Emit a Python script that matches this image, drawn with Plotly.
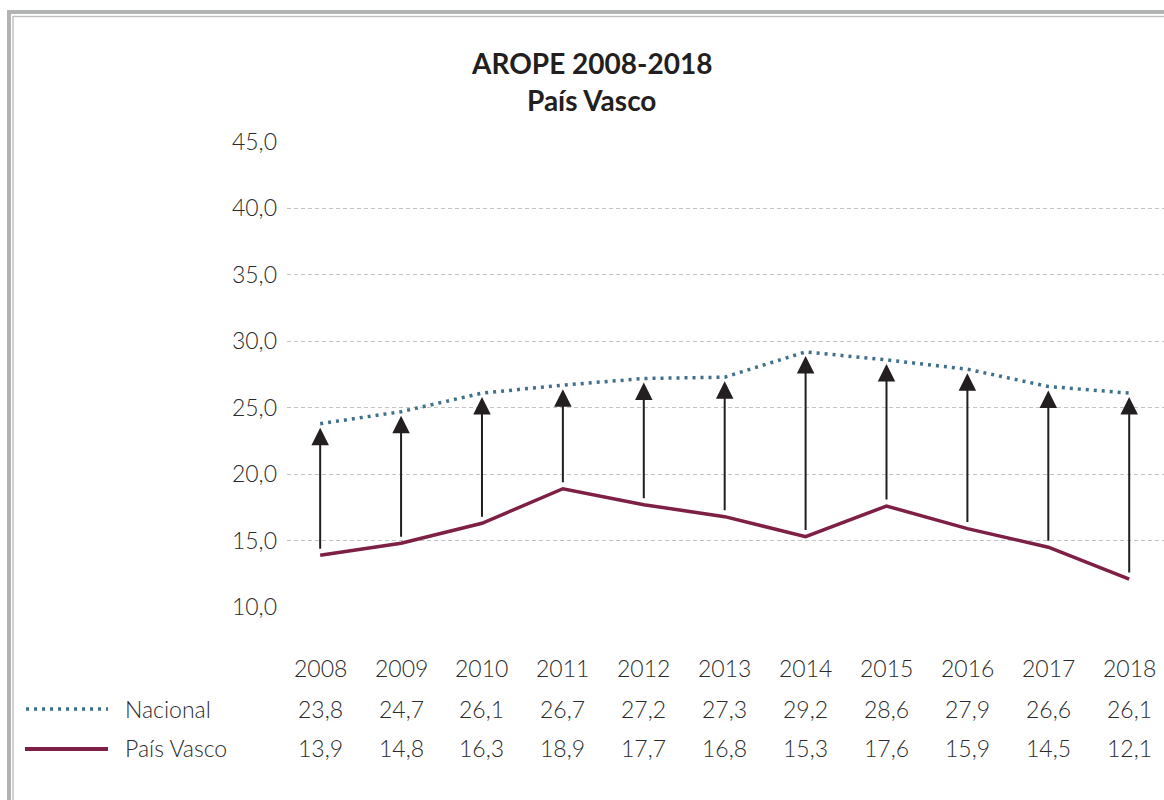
import plotly.graph_objects as go

years = [2008, 2009, 2010, 2011, 2012, 2013, 2014, 2015, 2016, 2017, 2018]
nacional = [23.8, 24.7, 26.1, 26.7, 27.2, 27.3, 29.2, 28.6, 27.9, 26.6, 26.1]
pais_vasco = [13.9, 14.8, 16.3, 18.9, 17.7, 16.8, 15.3, 17.6, 15.9, 14.5, 12.1]
y_ticks = [10, 15, 20, 25, 30, 35, 40, 45]
y_tick_labels = ["10,0", "15,0", "20,0", "25,0", "30,0", "35,0", "40,0", "45,0"]
series_names = ["Nacional", "País Vasco"]

C_NAC = "#41718a"
C_PV = "#7e1f45"
C_TXT = "#2b2b2b"
FONT = "Lato, sans-serif"

W, H = 1164, 800
L, R, T, B = 287, 0, 142, 193
PW, PH = W - L - R, H - T - B


def px(x):
    return (x - L) / PW


def py(y):
    return (H - B - y) / PH


def fmt(v):
    return f"{v:.1f}".replace(".", ",")


txt_font = dict(family=FONT, size=23, color=C_TXT, weight=300)

fig = go.Figure()
fig.add_trace(go.Scatter(x=years, y=nacional, mode="lines", name=series_names[0],
                         line=dict(color=C_NAC, width=3.5, dash="3px,5px"),
                         showlegend=False, hoverinfo="skip"))
fig.add_trace(go.Scatter(x=years, y=pais_vasco, mode="lines", name=series_names[1],
                         line=dict(color=C_PV, width=3.5),
                         showlegend=False, hoverinfo="skip"))

annotations = []
for yr, n, p in zip(years, nacional, pais_vasco):
    annotations.append(dict(x=yr, y=n, ax=yr, ay=p, xref="x", yref="y",
                            axref="x", ayref="y", text="", showarrow=True,
                            arrowhead=2, arrowsize=1.75, arrowwidth=2,
                            arrowcolor="#231f20", standoff=4, startstandoff=5))
    annotations.append(dict(x=yr, y=py(668), xref="x", yref="paper", text=str(yr),
                            showarrow=False, yanchor="middle", font=txt_font))
    annotations.append(dict(x=yr, y=py(709), xref="x", yref="paper", text=fmt(n),
                            showarrow=False, yanchor="middle", font=txt_font))
    annotations.append(dict(x=yr, y=py(748), xref="x", yref="paper", text=fmt(p),
                            showarrow=False, yanchor="middle", font=txt_font))

for name, yy in zip(series_names, [709, 748]):
    annotations.append(dict(x=px(123), y=py(yy), xref="paper", yref="paper", text=name,
                            showarrow=False, xanchor="left", yanchor="middle",
                            font=txt_font))

annotations.append(dict(x=px(591), y=py(63), xref="paper", yref="paper",
                        text="<b>AROPE 2008-2018</b>", showarrow=False,
                        xanchor="center", yanchor="middle",
                        font=dict(family=FONT, size=28, color="#231f20")))
annotations.append(dict(x=px(591), y=py(100), xref="paper", yref="paper",
                        text="<b>País Vasco</b>", showarrow=False,
                        xanchor="center", yanchor="middle",
                        font=dict(family=FONT, size=28, color="#231f20")))

shapes = [
    dict(type="line", xref="paper", yref="paper", x0=px(7), x1=px(1164), y0=py(12), y1=py(12),
         line=dict(color="#b2b4b4", width=4)),
    dict(type="line", xref="paper", yref="paper", x0=px(12.5), x1=px(1164), y0=py(16.5), y1=py(16.5),
         line=dict(color="#bfc1c1", width=1.5)),
    dict(type="line", xref="paper", yref="paper", x0=px(9), x1=px(9), y0=py(10), y1=py(800),
         line=dict(color="#b2b4b4", width=4)),
    dict(type="line", xref="paper", yref="paper", x0=px(13), x1=px(13), y0=py(16), y1=py(800),
         line=dict(color="#bfc1c1", width=1.5)),
    dict(type="line", xref="paper", yref="paper", x0=px(26), x1=px(108), y0=py(709), y1=py(709),
         line=dict(color=C_NAC, width=3.5, dash="3px,5px")),
    dict(type="line", xref="paper", yref="paper", x0=px(25), x1=px(108), y0=py(749), y1=py(749),
         line=dict(color=C_PV, width=4)),
]

fig.update_layout(
    width=W, height=H,
    margin=dict(l=L, r=R, t=T, b=B),
    paper_bgcolor="white", plot_bgcolor="white",
    annotations=annotations, shapes=shapes,
    showlegend=False,
    xaxis=dict(range=[2007.59, 2018.43], showgrid=False, zeroline=False,
               showticklabels=False, showline=False, fixedrange=True),
    yaxis=dict(range=[10, 45], tickmode="array", tickvals=y_ticks, ticktext=y_tick_labels,
               showgrid=True, gridcolor="#c4c4c4", gridwidth=1.3, griddash="4px,3px",
               zeroline=False, showline=False, ticks="", ticklabelstandoff=9,
               tickfont=txt_font, fixedrange=True),
)

fig.write_html("out.html", config={"displayModeBar": False},
               post_script="document.body.style.margin='0';document.body.style.overflow='hidden';")
